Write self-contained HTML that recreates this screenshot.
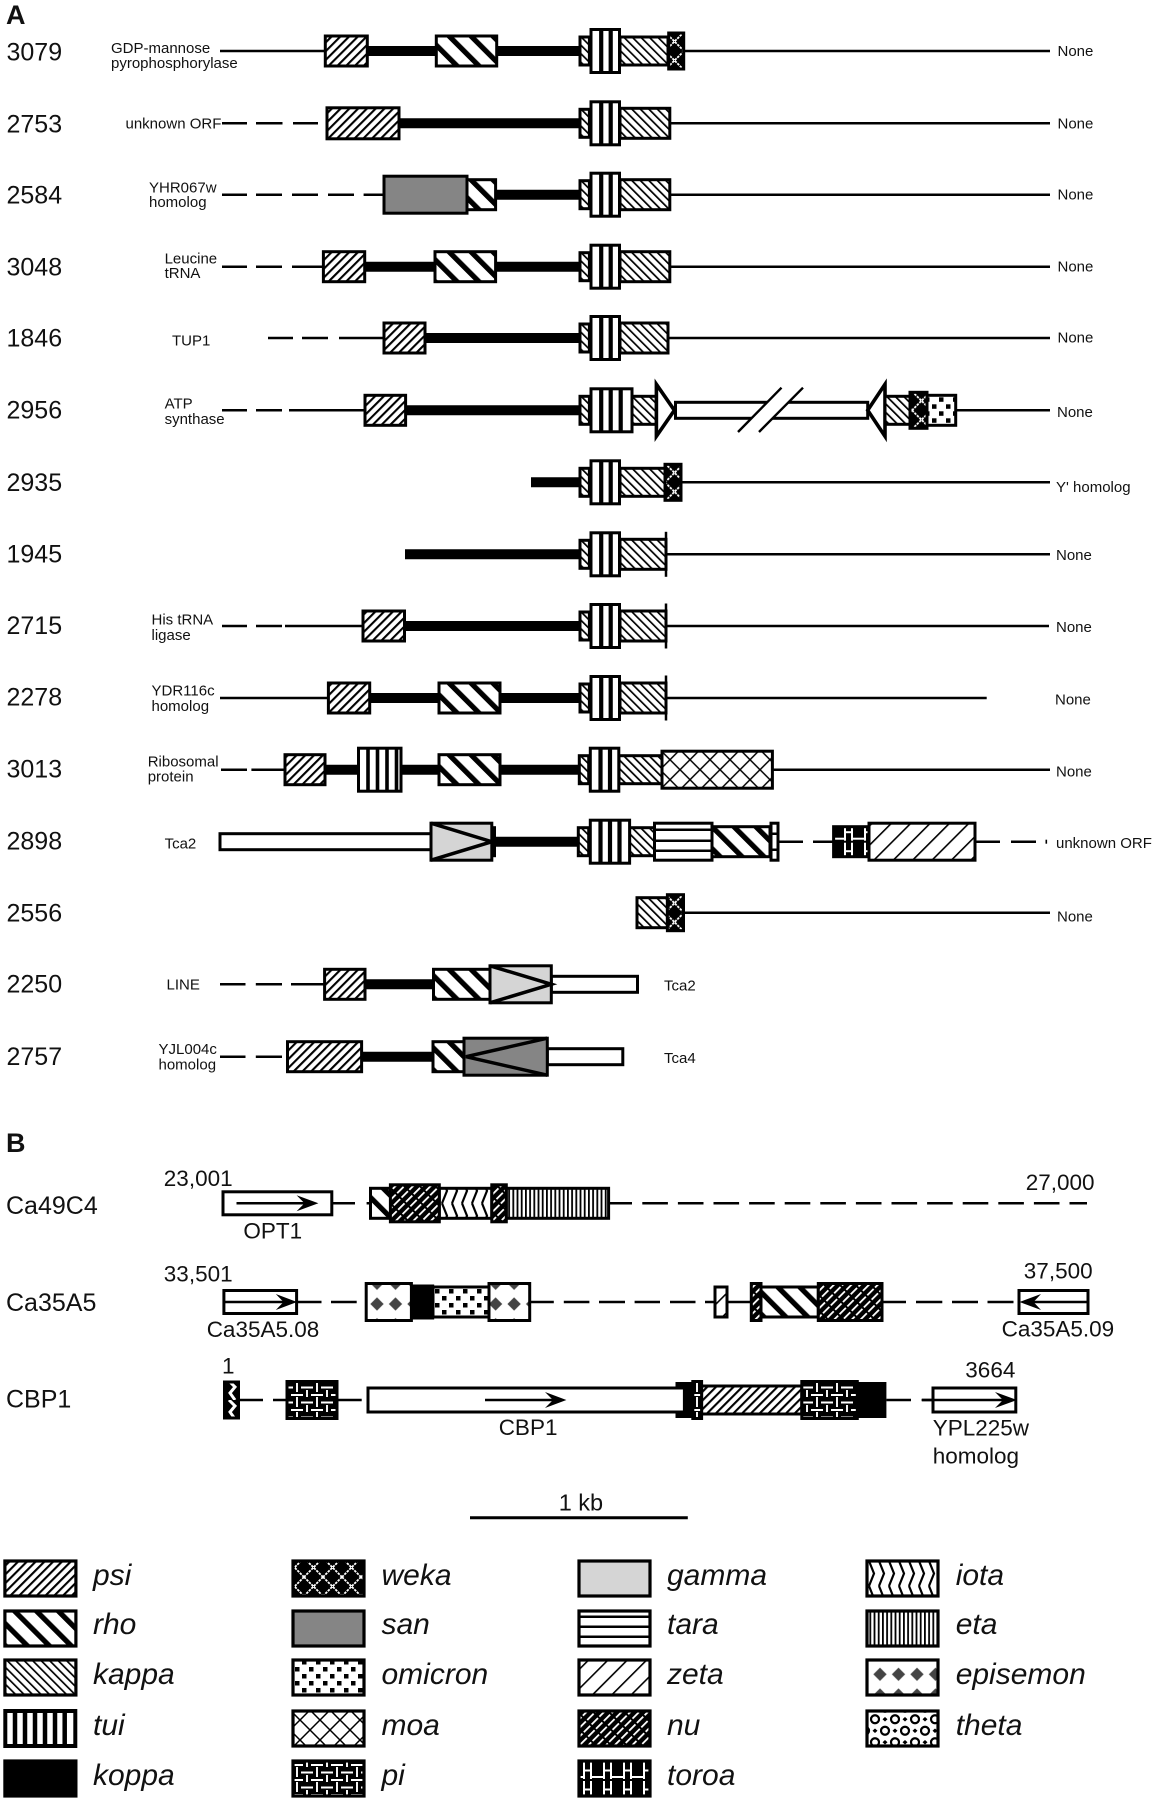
<!DOCTYPE html>
<html><head><meta charset="utf-8"><title>Diagram</title>
<style>
html,body{margin:0;padding:0;background:#fff}
svg{display:block}
text{font-family:"Liberation Sans",Arial,sans-serif;fill:#111}
.s{font-size:15px}.n{font-size:25px}.m{font-size:22.5px}.i{font-size:30px;font-style:italic}.b{font-size:27px;font-weight:bold}
.t{stroke:#000;stroke-width:2.5;fill:none}
.k{stroke:#000;stroke-width:10;fill:none}
.r{stroke:#000;stroke-width:3}
.w{fill:#fff}
.l{stroke:#000;stroke-width:3.2}
.v{stroke:#000;stroke-width:4.2;fill:none}
</style></head><body>
<svg xmlns="http://www.w3.org/2000/svg" width="1155" height="1800" viewBox="0 0 1155 1800">
<defs>
<pattern id="psi" width="6.2" height="10" patternUnits="userSpaceOnUse" patternTransform="rotate(45)"><rect width="6.2" height="10" fill="#fff"/><rect width="2.1" height="10"/></pattern>
<pattern id="rho" width="15.5" height="10" patternUnits="userSpaceOnUse" patternTransform="rotate(-45)"><rect width="15.5" height="10" fill="#fff"/><rect width="5.2" height="10"/></pattern>
<pattern id="kappa" width="6" height="10" patternUnits="userSpaceOnUse" patternTransform="rotate(-45)"><rect width="6" height="10" fill="#fff"/><rect width="1.7" height="10"/></pattern>
<pattern id="zeta" width="13.7" height="10" patternUnits="userSpaceOnUse" patternTransform="rotate(45)"><rect width="13.7" height="10" fill="#fff"/><rect width="1.6" height="10"/></pattern>
<pattern id="nu" width="6.2" height="11" patternUnits="userSpaceOnUse" patternTransform="rotate(45)"><rect width="6.2" height="11"/><rect width="1.8" height="9" fill="#fff"/></pattern>
<pattern id="eta" width="4.2" height="10" patternUnits="userSpaceOnUse"><rect width="4.2" height="10" fill="#fff"/><rect width="1.8" height="10"/></pattern>
<pattern id="omi" width="14" height="14" patternUnits="userSpaceOnUse"><rect width="14" height="14" fill="#fff"/><rect x="1" y="1" width="4.5" height="4.5"/><rect x="8" y="8" width="4.5" height="4.5"/></pattern>
<pattern id="moa" width="20" height="20" patternUnits="userSpaceOnUse"><rect width="20" height="20" fill="#fff"/><path d="M0 0L20 20M20 0L0 20" stroke="#000" stroke-width="1.5"/></pattern>
<pattern id="weka" width="19" height="19" patternUnits="userSpaceOnUse"><rect width="19" height="19"/><path d="M0 0L19 19M19 0L0 19" stroke="#fff" stroke-width="1.8" stroke-dasharray="2.5 1"/></pattern>
<pattern id="pi" width="20" height="15" patternUnits="userSpaceOnUse"><rect width="20" height="15"/><path d="M1 2.500H13M17 0V7M7 5V12M11 10H20M0 10H3M17 12V15" stroke="#fff" stroke-width="1.9" fill="none"/></pattern>
<pattern id="toroa" width="20" height="19" patternUnits="userSpaceOnUse"><rect width="20" height="19"/><path d="M5 1V18M12 1V18M5 9.500H12M12 16H20M0 16H5" stroke="#fff" stroke-width="2" fill="none"/></pattern>
<pattern id="iota" width="10" height="25" patternUnits="userSpaceOnUse"><rect width="10" height="25" fill="#fff"/><path d="M2 0L7 12.500L2 25" stroke="#000" stroke-width="2.2" fill="none"/></pattern>
<pattern id="epi" width="18.5" height="20.7" patternUnits="userSpaceOnUse" patternTransform="translate(-2.25,-8.35)"><rect width="18.5" height="20.7" fill="#fff"/><path d="M9.25 3.700L15.900 10.350L9.25 17L2.600 10.350Z" fill="#444"/></pattern>
<pattern id="theta" width="20" height="23" patternUnits="userSpaceOnUse"><rect width="20" height="23" fill="#fff"/><circle cx="5" cy="5.750" r="4" fill="none" stroke="#000" stroke-width="2.2"/><circle cx="15" cy="17.250" r="4" fill="none" stroke="#000" stroke-width="2.2"/><path d="M15 3.500L17.500 5.750L15 8L12.500 5.750ZM5 15L7.500 17.250L5 19.500L2.500 17.250Z"/></pattern>
<pattern id="sq" width="15" height="19" patternUnits="userSpaceOnUse"><rect width="15" height="19"/><path d="M4 0L10 6L5 12L10 19" stroke="#fff" stroke-width="3" fill="none"/></pattern>
<g id="core">
<rect class="r" x="580" y="-14" width="9.4" height="28" fill="url(#kappa)"/>
<rect class="r w" x="591" y="-21.500" width="28.500" height="43"/>
<path class="v" d="M601.200 -22V22M610.700 -22V22"/>
</g>
<g id="cap"><path class="t" d="M666 -22.500V22.500"/></g>
</defs>
<rect width="1155" height="1800" fill="#fff"/>

<text x="6" y="24" class="b">A</text>

<!-- 3079 -->
<g transform="translate(0,51)">
<path class="t" d="M220 0H325M684 0H1050"/><path class="k" d="M367 0H436M497 0H580"/>
<rect class="r" x="325.3" y="-15" width="42" height="30" fill="url(#psi)"/>
<rect class="r" x="436.3" y="-15" width="60.4" height="30" fill="url(#rho)"/>
<rect class="r" x="620" y="-14" width="48" height="28" fill="url(#kappa)"/>
<use href="#core"/>
<rect class="r" x="668.7" y="-18" width="15" height="36" fill="url(#weka)"/>
</g>
<text x="6.5" y="60.5" class="n">3079</text>
<text x="111" y="53" class="s">GDP-mannose</text><text x="111" y="68" class="s">pyrophosphorylase</text>
<text x="1057.5" y="56" class="s">None</text>

<!-- 2753 -->
<g transform="translate(0,123.3)">
<path class="t" d="M222 0H247M256 0H282.5M293 0H318M670 0H1050"/><path class="k" d="M399 0H580"/>
<rect class="r" x="327" y="-15.5" width="72" height="31" fill="url(#psi)"/>
<rect class="r" x="620" y="-15" width="49.8" height="30" fill="url(#kappa)"/>
<use href="#core"/>
</g>
<text x="6.5" y="132.3" class="n">2753</text>
<text x="125.5" y="128.5" class="s">unknown ORF</text>
<text x="1057.5" y="128.5" class="s">None</text>

<!-- 2584 -->
<g transform="translate(0,194.7)">
<path class="t" d="M222 0H247M256 0H282M292 0H318M328 0H354M363.6 0H384M670 0H1050"/><path class="k" d="M495 0H580"/>
<rect class="r" x="467" y="-15" width="28.6" height="30" fill="url(#rho)"/>
<rect class="r" x="384" y="-18.500" width="83" height="37" fill="#858585"/>
<rect class="r" x="620" y="-15" width="49.8" height="30" fill="url(#kappa)"/>
<use href="#core"/>
</g>
<text x="6.5" y="203.3" class="n">2584</text>
<text x="149" y="192.7" class="s">YHR067w</text><text x="149" y="207" class="s">homolog</text>
<text x="1057.5" y="199.5" class="s">None</text>

<!-- 3048 -->
<g transform="translate(0,266.7)">
<path class="t" d="M222 0H247M256 0H282M292 0H323M670 0H1050"/><path class="k" d="M365 0H435M495 0H580"/>
<rect class="r" x="323.4" y="-15" width="41.3" height="30" fill="url(#psi)"/>
<rect class="r" x="435" y="-15" width="60.6" height="30" fill="url(#rho)"/>
<rect class="r" x="620" y="-15" width="49.8" height="30" fill="url(#kappa)"/>
<use href="#core"/>
</g>
<text x="6.5" y="275.3" class="n">3048</text>
<text x="164.6" y="263.3" class="s">Leucine</text><text x="164.6" y="278" class="s">tRNA</text>
<text x="1057.5" y="271.5" class="s">None</text>

<!-- 1846 -->
<g transform="translate(0,338)">
<path class="t" d="M268 0H293M302 0H328M339 0H384M668 0H1050"/><path class="k" d="M425 0H580"/>
<rect class="r" x="384" y="-15" width="41" height="30" fill="url(#psi)"/>
<rect class="r" x="620" y="-15" width="48" height="30" fill="url(#kappa)"/>
<use href="#core"/>
</g>
<text x="6.5" y="346.7" class="n">1846</text>
<text x="172" y="345.3" class="s">TUP1</text>
<text x="1057.5" y="342.5" class="s">None</text>

<!-- 2956 -->
<g transform="translate(0,410.3)">
<path class="t" d="M222 0H247M256 0H282M289 0H365M956 0H1050"/><path class="k" d="M405 0H580"/>
<rect class="r" x="365" y="-15" width="40.6" height="30" fill="url(#psi)"/>
<rect class="r" x="580" y="-14" width="9.4" height="28" fill="url(#kappa)"/>
<rect class="r" x="632" y="-14" width="24.4" height="28" fill="url(#kappa)"/>
<rect class="r w" x="591" y="-21.500" width="41" height="43"/>
<path class="v" d="M601.200 -22V22M610.700 -22V22M620.700 -22V22"/>
<rect class="r w" x="675.5" y="-8" width="192.2" height="16"/>
<polygon class="w" points="738,21.7 781.5,-22.6 803,-22.6 759,21.7"/>
<path d="M738 21.7L781.5 -22.6M759 21.7L803 -22.6" stroke="#000" stroke-width="2.4" fill="none"/>
<polygon class="l w" points="656.4,-26 674.4,0 656.4,26" style="stroke-width:3.6"/>
<polygon class="l w" points="885,-26 867.7,0 885,26" style="stroke-width:3.6"/>
<rect class="r" x="885" y="-14" width="25" height="28" fill="url(#kappa)"/>
<rect class="r" x="927" y="-15" width="28.7" height="30" fill="url(#omi)"/>
<rect class="r" x="910" y="-18" width="17" height="36" fill="url(#weka)"/>
</g>
<text x="6.5" y="418.7" class="n">2956</text>
<text x="164.6" y="408.7" class="s">ATP</text><text x="164.6" y="424" class="s">synthase</text>
<text x="1057" y="417" class="s">None</text>

<!-- 2935 -->
<g transform="translate(0,482.3)">
<path class="t" d="M681 0H1050"/><path class="k" d="M531 0H580"/>
<rect class="r" x="620" y="-14" width="45" height="28" fill="url(#kappa)"/>
<use href="#core"/>
<rect class="r" x="665" y="-18" width="16" height="36" fill="url(#weka)"/>
</g>
<text x="6.5" y="491" class="n">2935</text>
<text x="1056" y="492" class="s">Y' homolog</text>

<!-- 1945 -->
<g transform="translate(0,554.3)">
<path class="t" d="M666 0H1050"/><path class="k" d="M405 0H580"/>
<rect class="r" x="620" y="-15" width="46" height="30" fill="url(#kappa)"/>
<use href="#core"/><use href="#cap"/>
</g>
<text x="6.5" y="562.3" class="n">1945</text>
<text x="1056" y="560" class="s">None</text>

<!-- 2715 -->
<g transform="translate(0,626)">
<path class="t" d="M222 0H247M256 0H282M285 0H363M666 0H1049"/><path class="k" d="M404 0H580"/>
<rect class="r" x="363" y="-15" width="41.5" height="30" fill="url(#psi)"/>
<rect class="r" x="620" y="-15" width="46" height="30" fill="url(#kappa)"/>
<use href="#core"/><use href="#cap"/>
</g>
<text x="6.5" y="634" class="n">2715</text>
<text x="151.5" y="624.3" class="s">His tRNA</text><text x="151.5" y="640" class="s">ligase</text>
<text x="1056" y="632" class="s">None</text>

<!-- 2278 -->
<g transform="translate(0,698)">
<path class="t" d="M220 0H328M666 0H986.7"/><path class="k" d="M370 0H439M500 0H580"/>
<rect class="r" x="328.4" y="-15" width="41.3" height="30" fill="url(#psi)"/>
<rect class="r" x="439" y="-15" width="61" height="30" fill="url(#rho)"/>
<rect class="r" x="620" y="-15" width="46" height="30" fill="url(#kappa)"/>
<use href="#core"/><use href="#cap"/>
</g>
<text x="6.5" y="705.7" class="n">2278</text>
<text x="151.5" y="695.7" class="s">YDR116c</text><text x="151.5" y="711" class="s">homolog</text>
<text x="1055" y="704.5" class="s">None</text>

<!-- 3013 -->
<g transform="translate(0,769.7)">
<path class="t" d="M221 0H247M251.4 0H285M772 0H1050"/><path class="k" d="M325 0H357M402 0H439M500 0H579"/>
<rect class="r" x="285" y="-15" width="40" height="30" fill="url(#psi)"/>
<rect class="r w" x="358.500" y="-21.500" width="42.500" height="43"/>
<path class="v" d="M368 -22V22M377.500 -22V22M387 -22V22M396.500 -22V22" style="stroke-width:3.6"/>
<rect class="r" x="439" y="-15" width="61" height="30" fill="url(#rho)"/>
<rect class="r" x="619" y="-14" width="43" height="28" fill="url(#kappa)"/>
<g transform="translate(-0.7,0)"><use href="#core"/></g>
<rect class="r" x="662" y="-18.500" width="110.4" height="37" fill="url(#moa)"/>
</g>
<text x="6.5" y="777.7" class="n">3013</text>
<text x="147.7" y="766.7" class="s">Ribosomal</text><text x="147.7" y="781.7" class="s">protein</text>
<text x="1056" y="776.5" class="s">None</text>

<!-- 2898 -->
<g transform="translate(0,841.7)">
<rect class="r w" x="220" y="-8" width="211" height="16"/>
<path class="k" d="M495 0H579"/>
<rect x="489" y="-15.5" width="7" height="31"/>
<rect class="r" x="431" y="-18.500" width="60.8" height="37" fill="#d5d5d5"/>
<path class="l" fill="none" d="M431 -18.500L491.8 0L431 18.500" style="stroke-width:3.5"/>
<rect class="r" x="578.3" y="-14" width="10.4" height="28" fill="url(#kappa)"/>
<rect class="r" x="629.6" y="-14" width="24.9" height="28" fill="url(#kappa)"/>
<rect class="r w" x="590.300" y="-21.500" width="39.300" height="43"/>
<path class="v" d="M600.500 -22V22M610 -22V22M619.500 -22V22"/>
<rect class="r w" x="654.5" y="-18.500" width="57.5" height="37"/>
<path class="t" d="M655 -12H712M655 -1H712M655 9H712"/>
<rect class="r" x="712" y="-15" width="58" height="30" fill="url(#rho)"/>
<rect class="r w" x="771" y="-18.500" width="7" height="37"/>
<path class="t" d="M770 -8H778M770 8H778"/>
<path class="t" d="M778 0H803M813 0H833.6M975 0H1000M1011 0H1036"/>
<rect x="1045.5" y="-2" width="1.6" height="4"/>
<rect class="r" x="833.6" y="-15" width="35.4" height="30" fill="url(#toroa)"/>
<rect class="r" x="869" y="-18.500" width="106" height="37" fill="url(#zeta)"/>
</g>
<text x="6.5" y="849.3" class="n">2898</text>
<text x="164.6" y="848.3" class="s">Tca2</text>
<text x="1056" y="848" class="s">unknown ORF</text>

<!-- 2556 -->
<g transform="translate(0,912.7)">
<path class="t" d="M683 0H1050"/>
<rect class="r" x="637" y="-15" width="30.4" height="30" fill="url(#kappa)"/>
<rect class="r" x="667.4" y="-18" width="16.1" height="36" fill="url(#weka)"/>
</g>
<text x="6.5" y="921.3" class="n">2556</text>
<text x="1057" y="921.5" class="s">None</text>

<!-- 2250 -->
<g transform="translate(0,984.3)">
<path class="t" d="M220 0H245.5M255.8 0H282M291 0H324.6"/><path class="k" d="M365 0H433"/>
<rect class="r" x="324.6" y="-15" width="40.4" height="30" fill="url(#psi)"/>
<rect class="r" x="433.5" y="-15" width="56.5" height="30" fill="url(#rho)"/>
<rect class="r w" x="551.3" y="-8" width="86.2" height="16"/>
<rect class="r" x="490" y="-18.500" width="61.3" height="37" fill="#d5d5d5"/>
<path class="l" fill="none" d="M490 -18.500L551.3 0L490 18.500" style="stroke-width:3.5"/>
</g>
<text x="6.5" y="992.7" class="n">2250</text>
<text x="166.5" y="989.3" class="s">LINE</text>
<text x="664" y="990.7" class="s">Tca2</text>

<!-- 2757 -->
<g transform="translate(0,1056.7)">
<path class="t" d="M220 0H245.5M255.8 0H282"/><path class="k" d="M361 0H433"/>
<rect class="r" x="287.5" y="-15" width="74.1" height="30" fill="url(#psi)"/>
<rect class="r" x="433" y="-15" width="31" height="30" fill="url(#rho)"/>
<rect class="r w" x="547.3" y="-8" width="75.5" height="16"/>
<rect class="r" x="464" y="-18.500" width="83.3" height="37" fill="#858585"/>
<path class="l" fill="none" d="M547.3 -18.500L466 0L547.3 18.500" style="stroke-width:3.5"/>
</g>
<text x="6.5" y="1065" class="n">2757</text>
<text x="158.5" y="1054" class="s">YJL004c</text><text x="158.5" y="1069.3" class="s">homolog</text>
<text x="664" y="1063" class="s">Tca4</text>

<!-- B -->
<text x="6" y="1152" class="b">B</text>

<!-- Ca49C4 -->
<g transform="translate(0,1203.3)">
<rect class="r w" x="223" y="-11.5" width="108.8" height="23"/>
<path class="t" d="M236.5 0H314"/><path d="M296.6 -8L318.4 0L296.6 8L304.500 0Z"/>
<path class="t" d="M331.8 0H355M366.6 0H370.5M608 0H632"/>
<path class="t" stroke-dasharray="25.6 10" d="M642.3 0H1087"/>
<rect class="r" x="370.5" y="-15" width="20" height="30" fill="url(#rho)"/>
<rect class="r" x="439.3" y="-15" width="52.5" height="30" fill="url(#iota)"/>
<rect class="r" x="506.3" y="-15" width="102.3" height="30" fill="url(#eta)"/>
<rect class="r" x="390.4" y="-18.500" width="48.9" height="37" fill="url(#nu)"/>
<rect class="r" x="491.8" y="-18.500" width="14.5" height="37" fill="url(#nu)"/>
</g>
<text x="6" y="1214" class="n">Ca49C4</text>
<text x="163.8" y="1186" class="m">23,001</text>
<text x="243.4" y="1238.3" class="m">OPT1</text>
<text x="1025.7" y="1190" class="m">27,000</text>

<!-- Ca35A5 -->
<g transform="translate(0,1302)">
<rect class="r w" x="223.9" y="-11.5" width="72.7" height="23"/>
<path class="t" d="M224 0H290M296.6 0H321.5M331 0H356.7M529.7 0H553.8M563.8 0H589.4M599 0H625M634.6 0H660M670 0H695.5M705 0H715M727 0H751.3M882 0H906M916 0H942.3M952 0H978M987.5 0H1013.5"/>
<path d="M275.8 -8L297 0L275.8 8L283.500 0Z"/>
<rect class="r" x="366.2" y="-18.500" width="45.2" height="37" fill="url(#epi)"/>
<rect class="r" x="433" y="-15" width="56" height="30" fill="url(#omi)"/>
<rect x="410.2" y="-17.500" width="24" height="35"/>
<g transform="translate(7.600,0)"><rect class="r" x="481.400" y="-18.500" width="40.7" height="37" fill="url(#epi)"/></g>
<rect class="r" x="715" y="-15" width="12" height="30" fill="url(#zeta)"/>
<rect class="r" x="761" y="-15" width="57.3" height="30" fill="url(#rho)"/>
<rect class="r" x="751.3" y="-18.500" width="9.7" height="37" fill="url(#nu)"/>
<rect class="r" x="818.3" y="-18.500" width="63.7" height="37" fill="url(#nu)"/>
<rect class="r w" x="1019" y="-11.5" width="69" height="23"/>
<path class="t" d="M1025 0H1088"/><path d="M1041 -8L1019.5 0L1041 8L1033.500 0Z"/>
</g>
<text x="6" y="1311" class="n">Ca35A5</text>
<text x="163.8" y="1281.7" class="m">33,501</text>
<text x="206.7" y="1337" class="m">Ca35A5.08</text>
<text x="1023.8" y="1278.3" class="m">37,500</text>
<text x="1001.6" y="1336.7" class="m">Ca35A5.09</text>

<!-- CBP1 -->
<g transform="translate(0,1400)">
<path class="t" d="M238.8 0H263M273 0H287M337 0H361.7M886.4 0H911M921.6 0H933"/>
<rect class="r" x="224.500" y="-18" width="14" height="36" fill="url(#sq)"/>
<rect class="r" x="287" y="-18.500" width="50" height="37" fill="url(#pi)"/>
<rect x="675.5" y="-18" width="17.3" height="36"/>
<rect class="r w" x="368" y="-12" width="316.4" height="24"/>
<path class="t" d="M485 0H560"/><path d="M545 -8L566.4 0L545 8L553 0Z"/>
<rect class="r" x="701.6" y="-14" width="100.2" height="28" fill="url(#psi)"/>
<rect class="r" x="692.8" y="-18.500" width="8.8" height="37" fill="url(#pi)"/>
<rect x="857.3" y="-18" width="29.1" height="36"/>
<rect class="r" x="801.8" y="-18.500" width="55.5" height="37" fill="url(#pi)"/>
<rect class="r w" x="933" y="-12" width="82.8" height="24"/>
<path class="t" d="M922 0H1010"/><path d="M995 -8L1017 0L995 8L1003 0Z"/>
</g>
<text x="6" y="1407.3" class="n">CBP1</text>
<text x="222" y="1373.3" class="m">1</text>
<text x="498.7" y="1435" class="m">CBP1</text>
<text x="965.3" y="1377.7" class="m">3664</text>
<text x="932.7" y="1435.7" class="m">YPL225w</text>
<text x="932.7" y="1463.3" class="m">homolog</text>

<!-- scale -->
<text x="558.7" y="1510.7" style="font-size:23.5px">1 kb</text>
<path d="M470 1517.7H687.8" stroke="#000" stroke-width="3" fill="none"/>

<!-- legend -->
<g>
<rect class="l" x="4.900" y="1561" width="71" height="35" fill="url(#psi)"/>
<rect class="l" x="4.900" y="1611" width="71" height="35" fill="url(#rho)"/>
<rect class="l" x="4.900" y="1660" width="71" height="35" fill="url(#kappa)"/>
<rect class="l w" x="5.300" y="1711" width="70" height="35" style="stroke-width:4"/>
<path class="v" d="M15 1710V1747M25 1710V1747M35 1710V1747M45 1710V1747M55 1710V1747M64.700 1710V1747" style="stroke-width:4.5"/>
<rect class="l" x="4.900" y="1761" width="71" height="35" fill="#000"/>
<rect class="l" x="293" y="1561" width="71" height="35" fill="url(#weka)"/>
<rect class="l" x="293" y="1611" width="71" height="35" fill="#858585"/>
<rect class="l" x="293" y="1660" width="71" height="35" fill="url(#omi)"/>
<rect class="l" x="293" y="1711" width="71" height="35" fill="url(#moa)"/>
<rect class="l" x="293" y="1761" width="71" height="35" fill="url(#pi)"/>
<rect class="l" x="579" y="1561" width="71" height="35" fill="#d5d5d5"/>
<rect class="l w" x="579" y="1611" width="71" height="35"/>
<path class="t" d="M579 1616.700H650M579 1626.700H650M579 1636.700H650"/>
<rect class="l" x="579" y="1660" width="71" height="35" fill="url(#zeta)"/>
<rect class="l" x="579" y="1711" width="71" height="35" fill="url(#nu)"/>
<g transform="translate(579,1761)"><rect class="l" x="0" y="0" width="71" height="35" fill="url(#toroa)"/></g>
<g transform="translate(867,1561)"><rect class="l" x="0" y="0" width="71" height="35" fill="url(#iota)"/></g>
<rect class="l" x="867" y="1611" width="71" height="35" fill="url(#eta)"/>
<g transform="translate(3.500,1672.300)"><rect class="l" x="863.500" y="-12.300" width="71" height="35" fill="url(#epi)"/></g>
<rect class="l" x="867" y="1711" width="71" height="35" fill="url(#theta)"/>
</g>
<text x="93" y="1585" class="i">psi</text>
<text x="93" y="1634" class="i">rho</text>
<text x="93" y="1684" class="i">kappa</text>
<text x="93" y="1735" class="i">tui</text>
<text x="93" y="1785" class="i">koppa</text>
<text x="381.500" y="1585" class="i">weka</text>
<text x="381.500" y="1634" class="i">san</text>
<text x="381.500" y="1684" class="i">omicron</text>
<text x="381.500" y="1735" class="i">moa</text>
<text x="381.500" y="1785" class="i">pi</text>
<text x="667" y="1585" class="i">gamma</text>
<text x="667" y="1634" class="i">tara</text>
<text x="667" y="1684" class="i">zeta</text>
<text x="667" y="1735" class="i">nu</text>
<text x="667" y="1785" class="i">toroa</text>
<text x="955.700" y="1585" class="i">iota</text>
<text x="955.700" y="1634" class="i">eta</text>
<text x="955.700" y="1684" class="i">episemon</text>
<text x="955.700" y="1735" class="i">theta</text>
</svg>
</body></html>
